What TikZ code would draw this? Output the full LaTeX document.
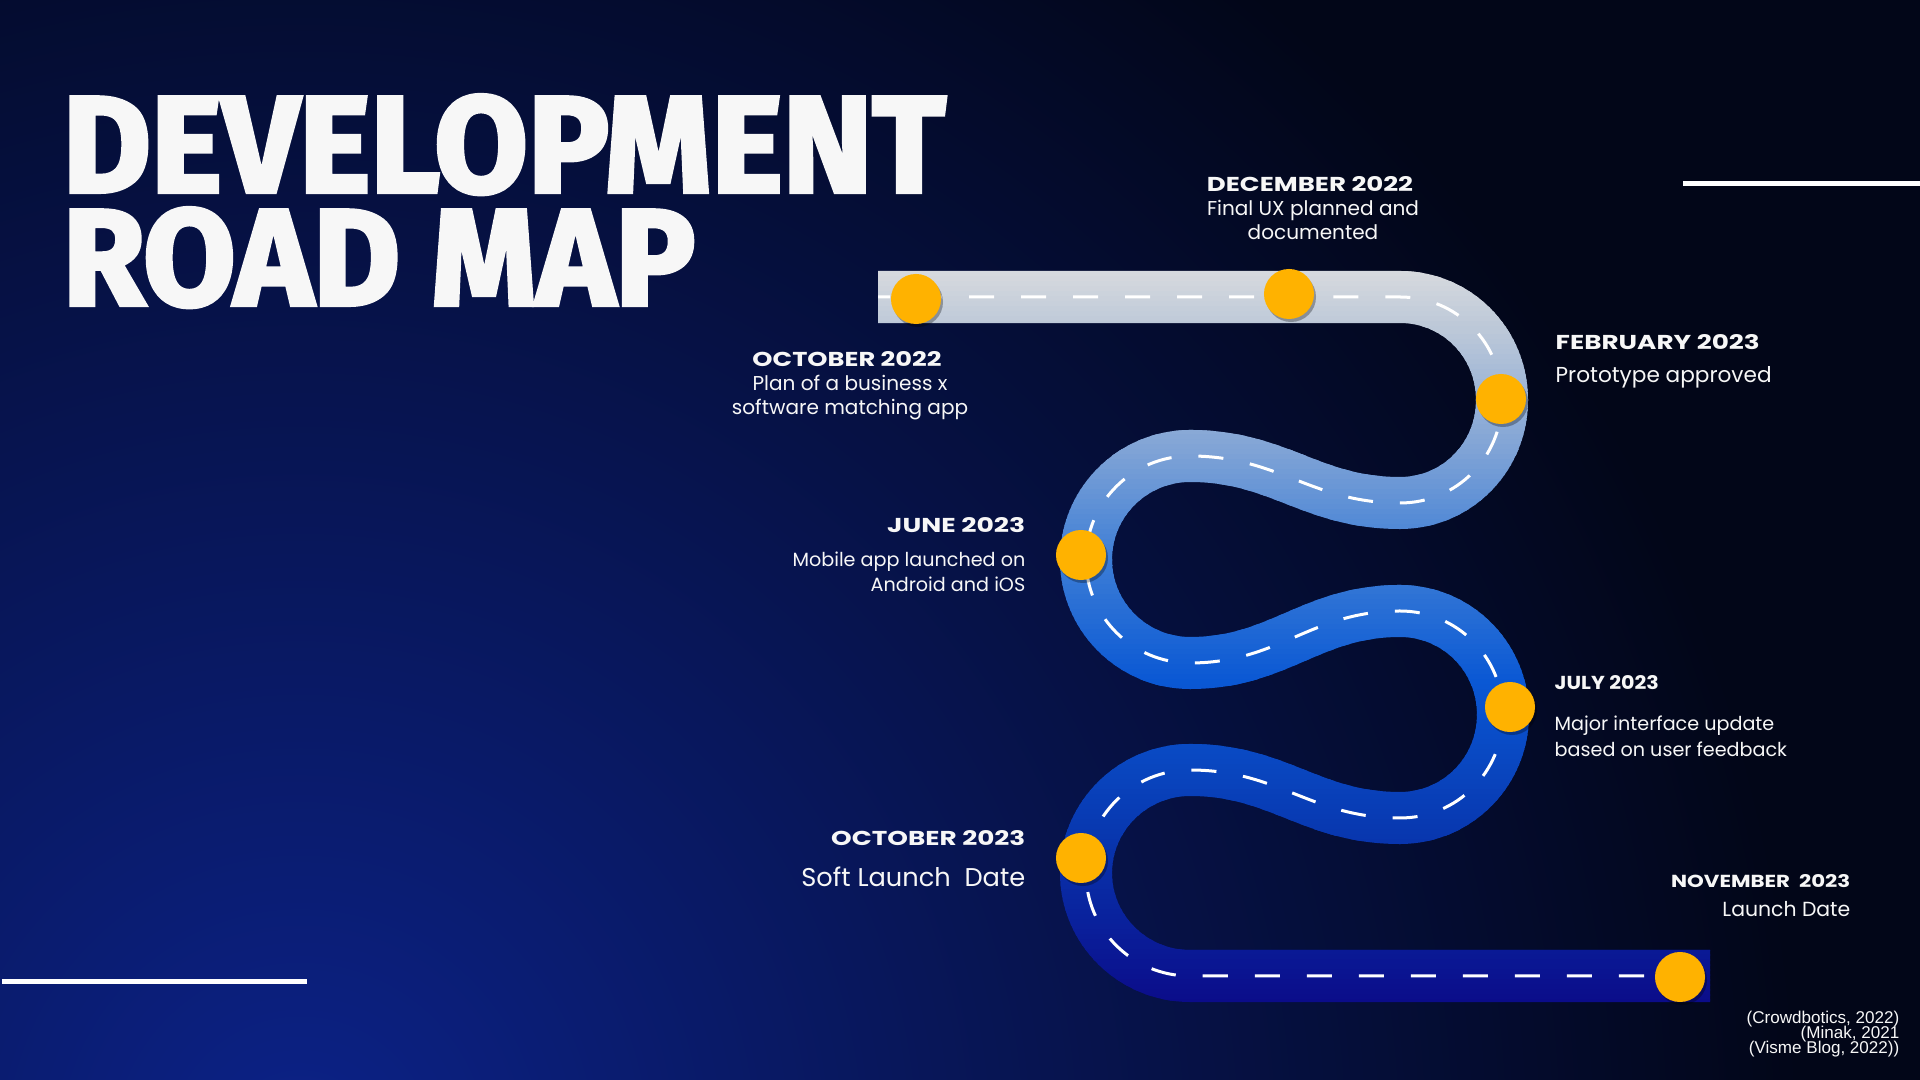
\documentclass[tikz,border=0pt]{standalone}
\usepackage{fontspec}
\setmainfont{Poppins}
\newfontfamily\titlefont{Fira Sans}[BoldFeatures={FakeBold=3}]
\newfontfamily\citefont{Liberation Sans}
\usetikzlibrary{shadows}
\definecolor{bgdark}{HTML}{020618}
\definecolor{bglight}{HTML}{0C2288}
\definecolor{r0}{HTML}{DBDCDF}
\definecolor{r1}{HTML}{BCC8D8}
\definecolor{r2}{HTML}{7FA3D6}
\definecolor{r3}{HTML}{3C7DD6}
\definecolor{r4}{HTML}{0A58D4}
\definecolor{r5}{HTML}{0838B0}
\definecolor{r6}{HTML}{0B0A88}
\definecolor{dotc}{HTML}{FFB200}
\definecolor{txt}{HTML}{F7F7F7}
\begin{document}
\begin{tikzpicture}[x=0.01cm,y=-0.01cm,
  lbl/.style={inner sep=0pt, text=txt, font=\fontsize{5.7pt}{6.8pt}\selectfont},
  lblsm/.style={inner sep=0pt, text=txt, font=\fontsize{5.45pt}{6.5pt}\selectfont},
  lblbig/.style={inner sep=0pt, text=txt, font=\fontsize{6.15pt}{7.4pt}\selectfont},
  hdg/.style={inner sep=0pt, text=txt},
  cite/.style={inner sep=0pt, text=txt, font=\citefont\fontsize{4.85pt}{5.5pt}\selectfont},
  dotn/.style={circle, fill=dotc, minimum size=0.5cm, inner sep=0pt,
    drop shadow={shadow xshift=0.02cm, shadow yshift=-0.03cm, opacity=0.3, fill=black}},
  roadln/.style={line width=0.52cm, line cap=butt, line join=round},
  centerln/.style={draw=white, line width=0.03cm, dash pattern=on 0.25cm off 0.27cm, dash phase=0.13cm},
  rule/.style={draw=white, line width=0.05cm}
]
\useasboundingbox (0,0) rectangle (1920,1080);
\fill[bgdark] (0,0) rectangle (1920,1080);
\begin{scope}
  \clip (0,0) rectangle (1920,1080);
  \shade[inner color=bglight, outer color=bgdark] (300,1150) circle (15cm);
\end{scope}

% road centre line
\path[save path=\roadpath] (878,297) -- (1400,297)
 .. controls (1457,297) and (1502,343) .. (1502,400)
 .. controls (1502,457) and (1457,503) .. (1400,503)
 .. controls (1311,503) and (1279,456) .. (1190,456)
 .. controls (1133,456) and (1086,502) .. (1086,559.5)
 .. controls (1086,617) and (1133,663) .. (1190,663)
 .. controls (1279,663) and (1311,611) .. (1400,611)
 .. controls (1457,611) and (1503,657) .. (1503,714.5)
 .. controls (1503,772) and (1457,818) .. (1400,818)
 .. controls (1311,818) and (1279,770) .. (1190,770)
 .. controls (1133,770) and (1086,816) .. (1086,873)
 .. controls (1086,930) and (1133,976) .. (1190,976)
 -- (1710,976);

\foreach \ya/\yb/\ca/\cb in {262/330/r0/r1,330/450/r1/r2,450/560/r2/r3,560/680/r3/r4,680/830/r4/r5,830/1010/r5/r6}{
  \pgfmathtruncatemacro{\nn}{(\yb-\ya)/5}
  \foreach \i in {0,...,\nn}{
    \pgfmathsetmacro{\yy}{\ya+5*\i}
    \pgfmathtruncatemacro{\pc}{100-100*\i/\nn}
    \begin{scope}
      \clip (0,\yy) rectangle (1920,\yy+5.8);
      \draw[roadln, draw=\ca!\pc!\cb, use path=\roadpath];
    \end{scope}
  }
}
\draw[centerln, use path=\roadpath];

% milestones
\node[dotn] (d1) at (916,299) {};
\node[dotn] (d2) at (1289,294) {};
\node[dotn] (d3) at (1501,399) {};
\node[dotn] (d4) at (1081,555) {};
\node[dotn] (d5) at (1510,707) {};
\node[dotn] (d6) at (1081,858) {};
\node[dotn] (d7) at (1680,977) {};

% title
\node[hdg, anchor=base west] (t1) at (62,192) {\resizebox{8.82cm}{0.97cm}{\titlefont\bfseries DEVELOPMENT}};
\node[hdg, anchor=base west] (t2) at (62,305) {\resizebox{6.32cm}{0.97cm}{\titlefont\bfseries ROAD MAP}};

% rules
\coordinate (r1a) at (1683,184); \coordinate (r1b) at (1920,184);
\draw[rule] (r1a) -- (r1b);
\coordinate (r2a) at (2,982); \coordinate (r2b) at (307,982);
\draw[rule] (r2a) -- (r2b);

% December 2022
\node[hdg, anchor=base] (dech) at (1310,192) {\resizebox{2.06cm}{0.15cm}{\bfseries DECEMBER 2022}};
\node[lbl, anchor=base] (decb1) at (1313,216) {Final UX planned and};
\node[lbl, anchor=base] (decb2) at (1313,240) {documented};

% October 2022
\node[hdg, anchor=base] (och) at (847,367) {\resizebox{1.89cm}{0.15cm}{\bfseries OCTOBER 2022}};
\node[lbl, anchor=base] (ocb1) at (850,391) {Plan of a business x};
\node[lbl, anchor=base] (ocb2) at (850,415) {software matching app};

% February 2023
\node[hdg, anchor=base west] (feh) at (1555,350) {\resizebox{2.04cm}{0.15cm}{\bfseries FEBRUARY 2023}};
\node[lblbig, anchor=base west] (feb1) at (1555,383) {Prototype approved};

% June 2023
\node[hdg, anchor=base east] (juh) at (1026,533) {\resizebox{1.38cm}{0.15cm}{\bfseries JUNE 2023}};
\node[lblsm, anchor=base east] (jub1) at (1026,567) {Mobile app launched on};
\node[lblsm, anchor=base east] (jub2) at (1026,592) {Android and iOS};

% July 2023
\node[hdg, anchor=base west] (jlh) at (1554,690) {\resizebox{1.04cm}{0.14cm}{\bfseries JULY 2023}};
\node[lblsm, anchor=base west] (jlb1) at (1554,731) {Major interface update};
\node[lblsm, anchor=base west] (jlb2) at (1554,757) {based on user feedback};

% October 2023
\node[hdg, anchor=base east] (o3h) at (1026,846) {\resizebox{1.94cm}{0.15cm}{\bfseries OCTOBER 2023}};
\node[inner sep=0pt, text=txt, font=\fontsize{7.3pt}{8.5pt}\selectfont, anchor=base east] (o3b) at (1026,887) {Soft Launch\ \ Date};

% November 2023
\node[hdg, anchor=base east] (nvh) at (1851,888) {\resizebox{1.79cm}{0.13cm}{\bfseries NOVEMBER\ \ 2023}};
\node[lbl, anchor=base east, font=\fontsize{5.8pt}{7pt}\selectfont] (nvb) at (1851,917) {Launch Date};

% citations
\node[cite, anchor=base east] (c1) at (1900,1024) {(Crowdbotics, 2022)};
\node[cite, anchor=base east] (c2) at (1900,1039) {(Minak, 2021};
\node[cite, anchor=base east] (c3) at (1900,1054) {(Visme Blog, 2022))};
\end{tikzpicture}
\end{document}
